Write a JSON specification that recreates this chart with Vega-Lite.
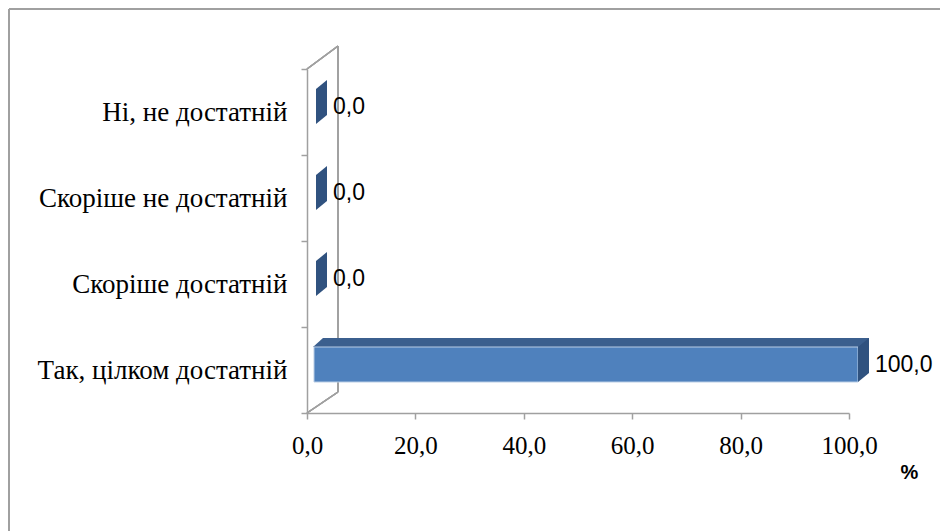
{
  "$schema": "https://vega.github.io/schema/vega-lite/v6.json",
  "autosize": "none",
  "padding": {"left": 9, "top": 9, "right": 0, "bottom": 0},
  "width": 931,
  "height": 522,
  "background": "white",
  "config": {
    "locale": {"number": {"decimal": ",", "thousands": " ", "grouping": [3], "currency": ["", ""]}},
    "view": {"stroke": "#a0a0a0", "strokeWidth": 2, "strokeDash": [931, 1453, 522, 0]},
    "axis": {"labelFont": "Times New Roman, Liberation Serif, DejaVu Serif, serif"}
  },
  "data": {"values": [
    {"category": "Ні, не достатній", "value": 0},
    {"category": "Скоріше не достатній", "value": 0},
    {"category": "Скоріше достатній", "value": 0},
    {"category": "Так, цілком достатній", "value": 100}
  ]},
  "encoding": {
    "y": {
      "field": "category", "type": "nominal",
      "sort": ["Ні, не достатній", "Скоріше не достатній", "Скоріше достатній", "Так, цілком достатній"],
      "scale": {"range": [60, 404], "paddingInner": 0, "paddingOuter": 0},
      "axis": {
        "title": null, "offset": -298, "tickBand": "extent", "tickSize": 6,
        "tickColor": "#a0a0a0", "tickWidth": 1.5, "domainColor": "#a0a0a0", "domainWidth": 1.5,
        "labelFontSize": 27, "labelColor": "#000000",
        "labelPadding": 14, "labelLimit": 400
      }
    }
  },
  "layer": [
    {
      "mark": {"type": "rule", "color": "#a0a0a0", "strokeWidth": 1.5, "x2Offset": 31, "y2Offset": -23},
      "encoding": {
        "x": {"datum": 0, "type": "quantitative", "scale": {"domain": [0, 100], "range": [298, 840], "nice": false}},
        "x2": {"datum": 0},
        "y": {"datum": "Ні, не достатній", "bandPosition": 0},
        "y2": {"datum": "Ні, не достатній", "bandPosition": 0}
      }
    },
    {
      "mark": {"type": "rule", "color": "#a0a0a0", "strokeWidth": 1.5, "xOffset": 31, "yOffset": -23, "y2Offset": -21},
      "encoding": {
        "x": {"datum": 0, "type": "quantitative"},
        "y": {"datum": "Ні, не достатній", "bandPosition": 0},
        "y2": {"datum": "Так, цілком достатній", "bandPosition": 1}
      }
    },
    {
      "mark": {"type": "rule", "color": "#a0a0a0", "strokeWidth": 1.5, "x2Offset": 31, "y2Offset": -21},
      "encoding": {
        "x": {"datum": 0, "type": "quantitative"},
        "x2": {"datum": 0},
        "y": {"datum": "Так, цілком достатній", "bandPosition": 1},
        "y2": {"datum": "Так, цілком достатній", "bandPosition": 1}
      }
    },
    {
      "transform": [{"filter": "datum.value > 0"}],
      "mark": {"type": "bar", "color": "#3b5f8e", "size": 9, "yOffset": -27.5, "xOffset": 20, "x2Offset": 16},
      "encoding": {
        "x": {"field": "value", "type": "quantitative"},
        "x2": {"datum": 0}
      }
    },
    {
      "transform": [{"filter": "datum.value > 0"}],
      "mark": {"type": "point", "shape": "M6,-23L16,-32L16,-23Z", "size": 4, "filled": true, "opacity": 1, "color": "#3b5f8e"},
      "encoding": {
        "x": {"datum": 0, "type": "quantitative"}
      }
    },
    {
      "transform": [{"filter": "datum.value > 0"}],
      "mark": {"type": "bar", "color": "#4f81bd", "stroke": "#b9cde5", "strokeWidth": 1, "size": 35, "yOffset": -5.5, "xOffset": 9, "x2Offset": 7},
      "encoding": {
        "x": {"field": "value", "type": "quantitative"},
        "x2": {"datum": 0}
      }
    },
    {
      "mark": {"type": "point", "shape": "M9,-23L20,-32L20,3L9,12Z", "size": 4, "filled": true, "opacity": 1, "color": "#30527f"},
      "encoding": {
        "x": {"field": "value", "type": "quantitative",
          "axis": {
            "values": [0, 20, 40, 60, 80, 100], "format": ".1f", "grid": false, "labelFlush": false,
            "offset": -118, "tickSize": 6, "tickColor": "#a0a0a0", "tickWidth": 1.5,
            "domainColor": "#a0a0a0", "domainWidth": 1.5,
            "labelFontSize": 25, "labelColor": "#000000", "labelPadding": 14,
            "title": "%", "titleFont": "Liberation Sans", "titleFontSize": 20, "titleFontWeight": "bold",
            "titleColor": "#000000", "titleX": 900, "titleY": 59, "titleAlign": "center", "titleBaseline": "middle"
          }
        }
      }
    },
    {
      "mark": {"type": "text", "align": "left", "baseline": "middle", "dx": 26, "dy": -5, "font": "Liberation Sans", "fontSize": 23, "color": "#000000"},
      "encoding": {
        "x": {"field": "value", "type": "quantitative"},
        "text": {"field": "value", "type": "quantitative", "format": ".1f"}
      }
    }
  ]
}
